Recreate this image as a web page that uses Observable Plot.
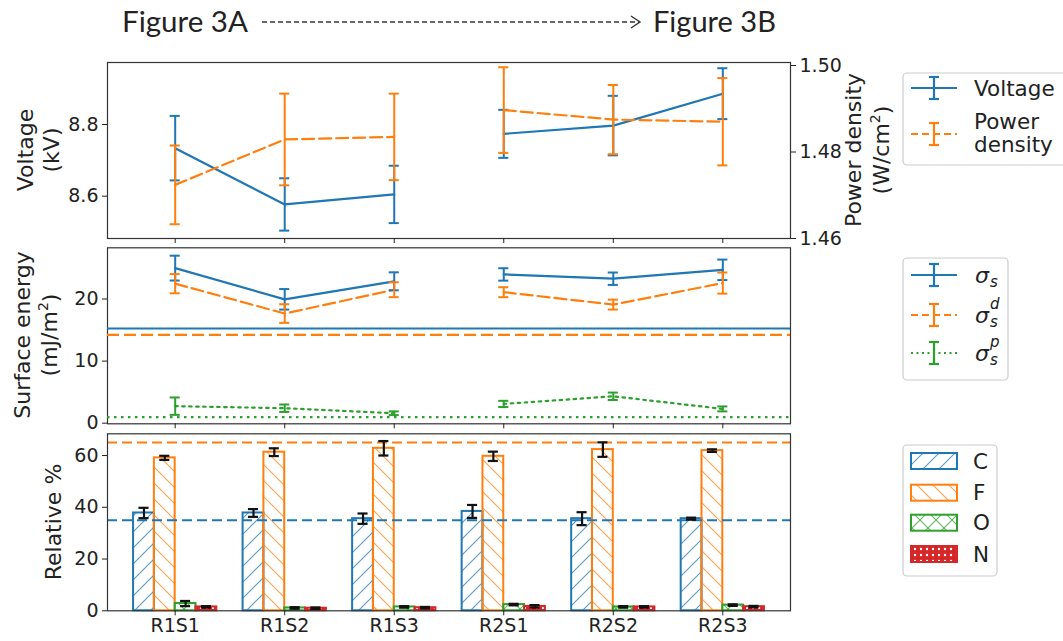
<!DOCTYPE html>
<html><head><meta charset="utf-8">
<script src="https://cdn.jsdelivr.net/npm/d3@7"></script>
<script src="https://cdn.jsdelivr.net/npm/@observablehq/plot@0.6"></script>
<style>
body{margin:0;background:#fff;overflow:hidden;}
#root{position:relative;width:1063px;height:641px;}
#root > svg{position:absolute;left:0;}
</style></head><body><div id="root"></div>
<script>
// ---------------- data ----------------
const samples = ["R1S1","R1S2","R1S3","R2S1","R2S2","R2S3"];
const runs = ["R1","R1","R1","R2","R2","R2"];
const voltage = [8.734, 8.577, 8.605, 8.774, 8.797, 8.886];
const voltageErr = [0.090, 0.073, 0.080, 0.067, 0.083, 0.071];
const powerDensity = [1.4724, 1.4829, 1.4835, 1.4897, 1.4875, 1.4870];
const powerDensityErr = [0.0091, 0.0106, 0.0100, 0.0099, 0.0080, 0.0101];
const sigmaS = [24.98, 19.95, 22.85, 23.96, 23.27, 24.70];
const sigmaSErr = [2.0, 1.65, 1.45, 1.0, 1.0, 1.65];
const sigmaD = [22.47, 17.66, 21.5, 21.1, 19.1, 22.57];
const sigmaDErr = [1.55, 1.5, 1.2, 0.8, 0.8, 1.7];
const sigmaP = [2.74, 2.41, 1.6, 3.1, 4.33, 2.3];
const sigmaPErr = [1.4, 0.6, 0.3, 0.5, 0.6, 0.4];
const refSigma = [15.25, 14.22, 0.96]; // sigma_s, sigma_d, sigma_p reference lines
const elements = ["C","F","O","N"];
const pctC = [37.8, 37.8, 35.6, 38.4, 35.6, 35.6];
const errC = [2.0, 1.5, 2.0, 2.5, 2.5, 0.4];
const pctF = [59.1, 61.3, 62.8, 59.7, 62.3, 61.9];
const errF = [0.8, 1.5, 2.8, 1.8, 2.8, 0.5];
const pctO = [2.8, 1.1, 1.5, 2.4, 1.5, 2.2];
const errO = [1.0, 0.3, 0.3, 0.3, 0.3, 0.3];
const pctN = [1.5, 1.0, 1.2, 1.7, 1.5, 1.6];
const errN = [0.3, 0.3, 0.3, 0.5, 0.3, 0.3];
const refC = 35, refF = 65;
const voltTicks = [8.6, 8.8];
const pdTicks = [1.46, 1.48, 1.50];
const seTicks = [0, 10, 20];
const relTicks = [0, 20, 40, 60];

// ---------------- style ----------------
const blue = "#1f77b4", orange = "#ff7f0e", green = "#2ca02c", red = "#d62728";
const FONT = "DejaVu Sans";
const idx = d3.range(samples.length);
const X = {type: "linear", domain: [-0.618, 5.618], axis: null};
const W = 1063, ML = 107, MR = 273;
const cap = 0.046;
const svgStyle = {background: "transparent", fontFamily: FONT, fontSize: "19px", color: "#222", overflow: "visible"};
const root = document.getElementById("root");

function errMarks(xs, vals, errs, color, sw = 2) {
  const d = xs.map((x, j) => ({x, lo: vals[j] - errs[j], hi: vals[j] + errs[j]}));
  return [
    Plot.ruleX(d, {x: "x", y1: "lo", y2: "hi", stroke: color, strokeWidth: sw}),
    Plot.ruleY(d, {y: "lo", x1: r => r.x - cap, x2: r => r.x + cap, stroke: color, strokeWidth: sw}),
    Plot.ruleY(d, {y: "hi", x1: r => r.x - cap, x2: r => r.x + cap, stroke: color, strokeWidth: sw})
  ];
}
function seriesLine(vals, color, dash) {
  return Plot.line(idx, {x: i => i, y: i => vals[i], z: i => runs[i], stroke: color, strokeWidth: 2.2,
    strokeDasharray: dash});
}
function place(svg, top) { svg.style.top = top + "px"; root.appendChild(svg); }

// ---------------- pattern defs ----------------
const defsSvg = d3.create("svg").attr("width", 0).attr("height", 0).style("top", "0px");
const defs = defsSvg.append("defs");
function hatch(id, color, paths) {
  const p = defs.append("pattern").attr("id", id).attr("patternUnits", "userSpaceOnUse")
    .attr("width", 16).attr("height", 16);
  paths.forEach(dd => p.append("path").attr("d", dd).attr("stroke", color).attr("stroke-width", 1.1)
    .attr("stroke-opacity", 0.75).attr("fill", "none"));
}
const fwd = ["M-4,4 L4,-4", "M0,16 L16,0", "M12,20 L20,12"];
const bwd = ["M-4,12 L4,20", "M0,0 L16,16", "M12,-4 L20,4"];
hatch("hatchC", blue, fwd);
hatch("hatchF", orange, bwd);
hatch("hatchO", green, fwd.concat(bwd));
{
  const p = defs.append("pattern").attr("id", "hatchN").attr("patternUnits", "userSpaceOnUse")
    .attr("width", 6).attr("height", 6);
  p.append("rect").attr("width", 6).attr("height", 6).attr("fill", red);
  p.append("circle").attr("cx", 3).attr("cy", 3).attr("r", 1.2).attr("fill", "#fff");
}
root.appendChild(defsSvg.node());

// ---------------- panel 1: voltage (left axis) ----------------
const p1 = Plot.plot({
  width: W, height: 250, marginLeft: ML, marginRight: MR, marginTop: 62, marginBottom: 12,
  x: X, y: {domain: [8.482, 8.973], axis: null}, style: svgStyle,
  marks: [
    Plot.frame({stroke: "#333", strokeWidth: 1.2}),
    Plot.axisY({ticks: voltTicks, tickFormat: d3.format(".1f"), tickSize: 5, tickPadding: 4, label: null}),
    Plot.axisX({ticks: idx, tickFormat: () => "", tickSize: 5, label: null}),
    seriesLine(voltage, blue),
    ...errMarks(idx, voltage, voltageErr, blue)
  ]
});
place(p1, 0);

// ---------------- panel 1b: power density (right axis) ----------------
const p1b = Plot.plot({
  width: W, height: 250, marginLeft: ML, marginRight: MR, marginTop: 62, marginBottom: 12,
  x: X, y: {domain: [1.46, 1.5007], axis: null}, style: svgStyle,
  marks: [
    Plot.axisY({anchor: "right", ticks: pdTicks, tickFormat: d3.format(".2f"), tickSize: 5, tickPadding: 4, label: null}),
    seriesLine(powerDensity, orange, "12,5"),
    ...errMarks(idx, powerDensity, powerDensityErr, orange)
  ]
});
place(p1b, 0);

// ---------------- panel 2: surface energy ----------------
const p2 = Plot.plot({
  width: W, height: 195, marginLeft: ML, marginRight: MR, marginTop: 7.3, marginBottom: 11.7,
  x: X, y: {domain: [-0.1, 28.25], axis: null}, style: svgStyle,
  marks: [
    Plot.frame({stroke: "#333", strokeWidth: 1.2}),
    Plot.axisY({ticks: seTicks, tickSize: 5, tickPadding: 4, label: null}),
    Plot.axisX({ticks: idx, tickFormat: () => "", tickSize: 5, label: null}),
    Plot.ruleY([refSigma[0]], {stroke: blue, strokeWidth: 2.2}),
    Plot.ruleY([refSigma[1]], {stroke: orange, strokeWidth: 2.2, strokeDasharray: "12,5"}),
    Plot.ruleY([refSigma[2]], {stroke: green, strokeWidth: 2.2, strokeDasharray: "2.5,4.5"}),
    seriesLine(sigmaS, blue),
    seriesLine(sigmaD, orange, "12,5"),
    seriesLine(sigmaP, green, "2.5,4.5"),
    ...errMarks(idx, sigmaS, sigmaSErr, blue),
    ...errMarks(idx, sigmaD, sigmaDErr, orange),
    ...errMarks(idx, sigmaP, sigmaPErr, green)
  ]
});
place(p2, 240);

// ---------------- panel 3: relative % bars ----------------
const barW = 0.19;
const offsets = [-1.5, -0.5, 0.5, 1.5];
const series = [
  {vals: pctC, errs: errC, color: blue, fill: "url(#hatchC)"},
  {vals: pctF, errs: errF, color: orange, fill: "url(#hatchF)"},
  {vals: pctO, errs: errO, color: green, fill: "url(#hatchO)"},
  {vals: pctN, errs: errN, color: red, fill: "url(#hatchN)"}
];
const barMarks = [], barErr = [];
series.forEach((s, k) => {
  const xs = idx.map(i => i + offsets[k] * barW);
  const rows = idx.map(i => ({x: xs[i], v: s.vals[i]}));
  barMarks.push(Plot.rect(rows, {x1: r => r.x - barW / 2, x2: r => r.x + barW / 2, y1: 0, y2: "v",
    fill: s.fill, stroke: s.color, strokeWidth: 2}));
  barErr.push(...errMarks(xs, s.vals, s.errs, "#111", 2.2));
});
const p3 = Plot.plot({
  width: W, height: 216, marginLeft: ML, marginRight: MR, marginTop: 8.3, marginBottom: 30.7,
  x: X, y: {domain: [0, 68.4], axis: null}, style: svgStyle,
  marks: [
    ...barMarks,
    Plot.ruleY([refF], {stroke: orange, strokeWidth: 2, strokeDasharray: "10,5"}),
    Plot.ruleY([refC], {stroke: blue, strokeWidth: 2, strokeDasharray: "10,5"}),
    ...barErr,
    Plot.frame({stroke: "#333", strokeWidth: 1.2}),
    Plot.axisY({ticks: relTicks, tickSize: 5, tickPadding: 4, label: null}),
    Plot.axisX({ticks: idx, tickFormat: i => samples[i], tickSize: 5, tickPadding: 3, label: null})
  ]
});
place(p3, 425);

// ---------------- overlay: title, axis labels, legends ----------------
const ov = d3.create("svg").attr("width", W).attr("height", 641).style("top", "0px")
  .attr("font-family", FONT).attr("fill", "#222");
// title
ov.append("text").attr("x", 122).attr("y", 32).attr("font-family", "Lato").attr("font-size", 29)
  .attr("textLength", 126).attr("lengthAdjust", "spacingAndGlyphs").text("Figure 3A");
ov.append("text").attr("x", 653).attr("y", 32).attr("font-family", "Lato").attr("font-size", 29)
  .attr("textLength", 123).attr("lengthAdjust", "spacingAndGlyphs").text("Figure 3B");
ov.append("line").attr("x1", 262).attr("x2", 639).attr("y1", 22).attr("y2", 22)
  .attr("stroke", "#333").attr("stroke-width", 1.3).attr("stroke-dasharray", "5,3");
ov.append("polyline").attr("points", "631,16 640,22 631,28").attr("fill", "none")
  .attr("stroke", "#333").attr("stroke-width", 1.4);

function vlabel(x, y, txt, sup) {
  const t = ov.append("text").attr("transform", `translate(${x},${y}) rotate(-90)`)
    .attr("text-anchor", "middle").attr("dy", "0.35em").attr("font-size", 22);
  t.append("tspan").text(txt);
  if (sup) { t.append("tspan").attr("font-size", 14).attr("dy", "-0.6em").text(sup);
             t.append("tspan").attr("dy", "0.42em").text(")"); }
}
vlabel(25, 150, "Voltage");
vlabel(51, 150, "(kV)");
vlabel(853, 150, "Power density");
vlabel(881, 150, "(W/cm", "2");
vlabel(22, 335, "Surface energy");
vlabel(49, 335, "(mJ/m", "2");
vlabel(53, 522, "Relative %");

function box(x, y, w, h) {
  ov.append("rect").attr("x", x).attr("y", y).attr("width", w).attr("height", h).attr("rx", 4)
    .attr("fill", "#fff").attr("stroke", "#ccc").attr("stroke-width", 1.2);
}
function errHandle(y, color, dash) {
  ov.append("line").attr("x1", 911).attr("x2", 957).attr("y1", y).attr("y2", y)
    .attr("stroke", color).attr("stroke-width", 2.2).attr("stroke-dasharray", dash || null);
  ov.append("line").attr("x1", 934).attr("x2", 934).attr("y1", y - 11).attr("y2", y + 11)
    .attr("stroke", color).attr("stroke-width", 2.2);
  [y - 11, y + 11].forEach(yy => ov.append("line").attr("x1", 929).attr("x2", 939)
    .attr("y1", yy).attr("y2", yy).attr("stroke", color).attr("stroke-width", 2.2));
}
function ltext(x, y, s, size = 21.5) {
  return ov.append("text").attr("x", x).attr("y", y).attr("dy", "0.35em").attr("font-size", size).text(s);
}
// legend 1
box(903, 73, 170, 92);
errHandle(88, blue);
ltext(974, 88, "Voltage");
errHandle(134, orange, "7,4");
ltext(974, 121, "Power");
ltext(974, 144, "density");
// legend 2
box(903, 258, 105, 122);
errHandle(275, blue);
errHandle(315, orange, "7,4");
errHandle(353, green, "2,3.5");
function sigma(y, sup) {
  const t = ov.append("text").attr("x", 975).attr("y", y).attr("dy", "0.35em").attr("font-size", 22)
    .attr("font-style", "italic");
  t.append("tspan").text("σ");
  if (sup) {
    ov.append("text").attr("x", 990).attr("y", y - 6).attr("font-size", 15).attr("font-style", "italic").text(sup);
  }
  ov.append("text").attr("x", 990).attr("y", y + 12).attr("font-size", 15).attr("font-style", "italic").text("s");
}
sigma(275);
sigma(315, "d");
sigma(353, "p");
// legend 3
box(903, 445, 94, 131);
const legY = [461, 492.7, 522.7, 554];
series.forEach((s, k) => {
  ov.append("rect").attr("x", 911).attr("y", legY[k] - 8).attr("width", 46).attr("height", 16)
    .attr("fill", s.fill).attr("stroke", s.color).attr("stroke-width", 2);
  ltext(973, legY[k], elements[k]);
});
root.appendChild(ov.node());
</script>
</body></html>
